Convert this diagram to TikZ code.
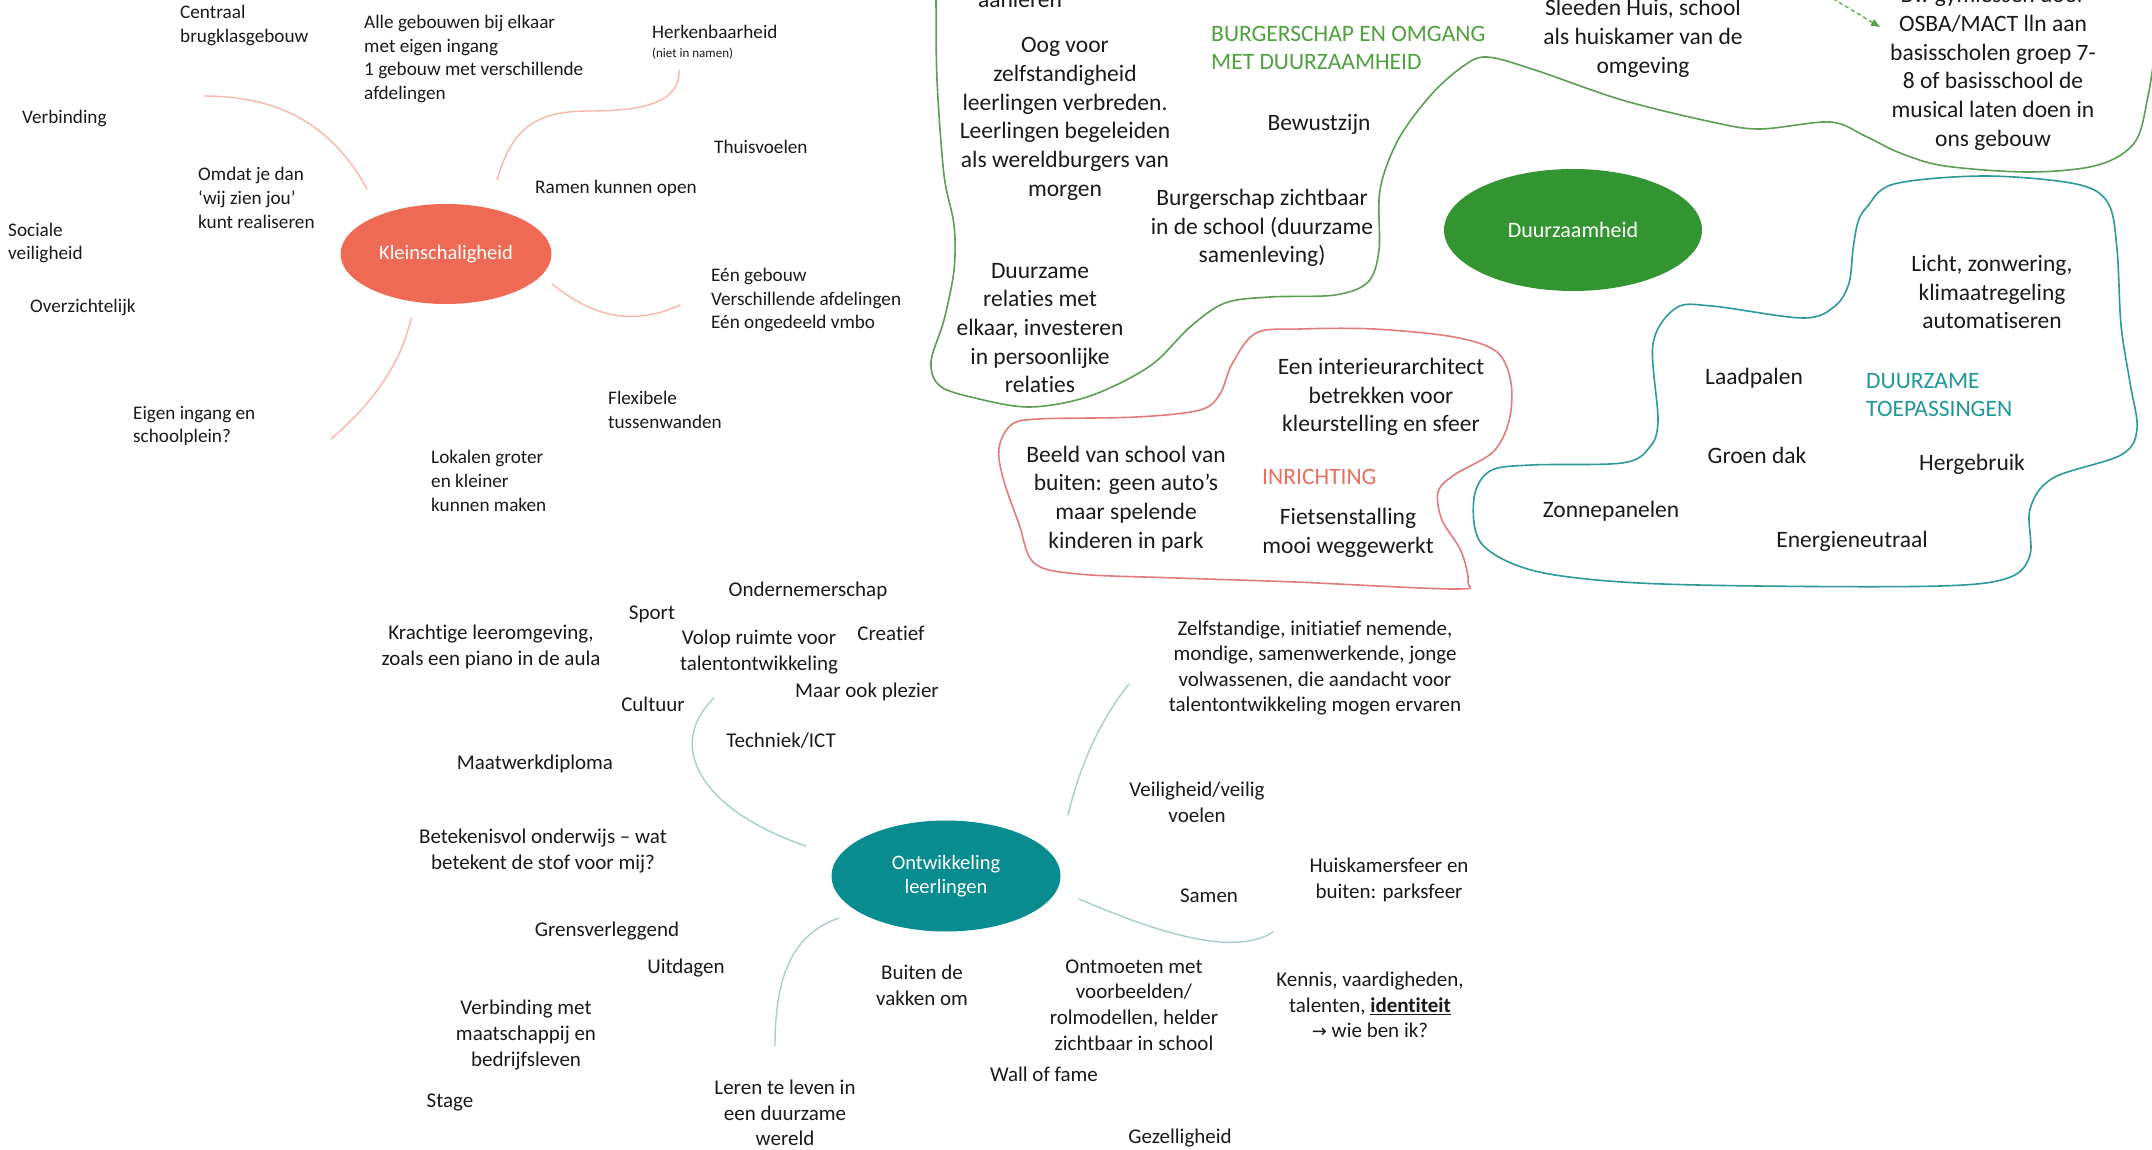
\documentclass[tikz,border=0pt]{standalone}
\usepackage{fontspec}
\setmainfont{Carlito}[Ligatures={TeX,NoCommon}]
\newfontfamily\symfont{DejaVu Sans}
\usepackage{tikz}
\usetikzlibrary{arrows.meta,shapes.geometric}
\definecolor{ink}{HTML}{1A1A1A}
\definecolor{coral}{HTML}{EE6A55}
\definecolor{coralpale}{HTML}{F5B8AD}
\definecolor{teal}{HTML}{088C8F}
\definecolor{tealpale}{HTML}{A9CDCD}
\definecolor{leaf}{HTML}{339432}
\definecolor{leafline}{HTML}{5E9C57}
\definecolor{leaftext}{HTML}{50A040}
\definecolor{redline}{HTML}{E07C7A}
\definecolor{redtext}{HTML}{E8705F}
\definecolor{seaLine}{HTML}{2F9898}
\definecolor{seatext}{HTML}{1F9898}
\tikzset{
  kl/.style={text=ink, inner sep=0pt, font=\fontsize{19.2}{23.7}\selectfont, align=left, anchor=west},
  ol/.style={text=ink, inner sep=0pt, font=\fontsize{21}{25.6}\selectfont, align=center},
  bl/.style={text=ink, inner sep=0pt, font=\fontsize{23.5}{28.7}\selectfont, align=center},
  ttl/.style={bl, align=left, anchor=west},
  hub/.style={ellipse, inner sep=0pt, text=white, font=\fontsize{20.5}{24}\selectfont, align=center},
  klink/.style={draw=coralpale, line width=1.4pt, line cap=round},
  olink/.style={draw=tealpale, line width=1.4pt, line cap=round},
  blob/.style={line width=1.6pt, line join=round},
  dasharrow/.style={draw=leaftext, line width=1.2pt, dash pattern=on 4pt off 3pt, -{Triangle[length=9pt,width=7pt]}},
}
\begin{document}
\begin{tikzpicture}[x=1pt,y=-1pt]
  \useasboundingbox (0,0) rectangle (2152,1150);
  \clip (0,0) rectangle (2152,1150);
  \fill[white] (0,0) rectangle (2152,1150);

  % Kleinschaligheid
  \node[hub, fill=coral, minimum width=211pt, minimum height=100pt] (klein) at (446,254) {Kleinschaligheid};
  \node[kl] (centraal) at (180,25.5) {Centraal\\brugklasgebouw};
  \node[kl] (allegeb) at (364,59) {Alle gebouwen bij elkaar\\met eigen ingang\\1 gebouw met verschillende\\afdelingen};
  \node[kl] (herk) at (652,32) {Herkenbaarheid};
  \node[kl, font=\fontsize{13}{15}\selectfont] (herknote) at (652,54) {(niet in namen)};
  \node[kl] (verb) at (22,118) {Verbinding};
  \node[kl] (thuis) at (714,147) {Thuisvoelen};
  \node[kl] (omdat) at (198,198) {Omdat je dan\\‘wij zien jou’\\kunt realiseren};
  \node[kl] (ramen) at (535,188) {Ramen kunnen open};
  \node[kl] (sociaal) at (8,243) {Sociale\\veiligheid};
  \node[kl] (eengeb) at (711,300) {Eén gebouw\\Verschillende afdelingen\\Eén ongedeeld vmbo};
  \node[kl] (overz) at (30,307) {Overzichtelijk};
  \node[kl] (flex) at (608,410) {Flexibele\\tussenwanden};
  \node[kl] (eigen) at (133,426) {Eigen ingang en\\schoolplein?};
  \node[kl] (lokalen) at (431,481) {Lokalen groter\\en kleiner\\kunnen maken};

  \coordinate (kA1) at (367,189); \coordinate (kA2) at (204,96);
  \coordinate (kB1) at (497,180); \coordinate (kB2) at (590,111); \coordinate (kB3) at (679,70);
  \coordinate (kC1) at (552,284); \coordinate (kC2) at (680,305);
  \coordinate (kD1) at (411,318); \coordinate (kD2) at (331,439);
  \draw[klink] (kA1) .. controls (335,130) and (285,96) .. (kA2);
  \draw[klink] (kB1) .. controls (512,128) and (535,111) .. (kB2) .. controls (650,111) and (680,100) .. (kB3);
  \draw[klink] (kC1) .. controls (585,310) and (625,330) .. (kC2);
  \draw[klink] (kD1) .. controls (400,370) and (365,410) .. (kD2);

  % Ontwikkeling leerlingen
  \node[hub, fill=teal, minimum width=229pt, minimum height=111pt] (ontw) at (946,876) {Ontwikkeling\\leerlingen};
  \node[ol] (ond) at (808,591) {Ondernemerschap};
  \node[ol] (sport) at (652,614) {Sport};
  \node[ol] (kracht) at (491,647) {Krachtige leeromgeving,\\zoals een piano in de aula};
  \node[ol] (volop) at (759,652) {Volop ruimte voor\\talentontwikkeling};
  \node[ol] (creatief) at (891,633) {Creatief};
  \node[ol] (plezier) at (867,692) {Maar ook plezier};
  \node[ol] (cultuur) at (653,704) {Cultuur};
  \node[ol] (techniek) at (781,741) {Techniek/ICT};
  \node[ol] (maatwerk) at (535,764) {Maatwerkdiploma};
  \node[ol] (betek) at (543,851) {Betekenisvol onderwijs – wat\\betekent de stof voor mij?};
  \node[ol] (grens) at (607,931) {Grensverleggend};
  \node[ol] (uitdagen) at (686,968) {Uitdagen};
  \node[ol] (buiten) at (922,985) {Buiten de\\vakken om};
  \node[ol] (verbmaat) at (526,1035) {Verbinding met\\maatschappij en\\bedrijfsleven};
  \node[ol] (stage) at (450,1102) {Stage};
  \node[ol] (leren) at (785,1113) {Leren te leven in\\een duurzame\\wereld};
  \node[ol] (zelfst) at (1315,668) {Zelfstandige, initiatief nemende,\\mondige, samenwerkende, jonge\\volwassenen, die aandacht voor\\talentontwikkeling mogen ervaren};
  \node[ol] (veilig) at (1197,802) {Veiligheid/veilig\\voelen};
  \node[ol] (huisk) at (1389,880) {Huiskamersfeer en\\buiten: parksfeer};
  \node[ol] (samen) at (1209,896) {Samen};
  \node[ol] (ontmoet) at (1134,1005) {Ontmoeten met\\voorbeelden/\\rolmodellen, helder\\zichtbaar in school};
  \node[ol] (kennis) at (1370,1005) {Kennis, vaardigheden,\\talenten, \underline{\textbf{identiteit}}\\{\symfont\fontsize{18}{20}\selectfont →} wie ben ik?};
  \node[ol] (wall) at (1044,1074) {Wall of fame};
  \node[ol] (gezel) at (1180,1138) {Gezelligheid};

  \coordinate (oA1) at (806,846); \coordinate (oA2) at (714,698);
  \coordinate (oB1) at (839,918); \coordinate (oB2) at (775,1046);
  \coordinate (oC1) at (1068,815); \coordinate (oC2) at (1129,684);
  \coordinate (oD1) at (1079,899); \coordinate (oD2) at (1273,932);
  \draw[olink] (oA1) .. controls (700,810) and (665,745) .. (oA2);
  \draw[olink] (oB1) .. controls (790,935) and (775,980) .. (oB2);
  \draw[olink] (oC1) .. controls (1080,765) and (1100,720) .. (oC2);
  \draw[olink] (oD1) .. controls (1140,925) and (1230,960) .. (oD2);

  % Duurzaamheid
  \node[hub, fill=leaf, minimum width=258pt, minimum height=122pt, font=\fontsize{22}{26}\selectfont] (duurz) at (1573,230) {Duurzaamheid};

  % burgerschap
  \draw[blob, draw=leafline] plot[smooth, tension=0.55] coordinates {
    (936,-25) (936,0) (937,80) (944,175) (954,225) (954,270) (944,320) (931,362) (940,386) (975,398)
    (1030,407) (1090,396) (1150,366) (1190,327) (1225,303) (1270,297) (1335,295) (1368,282) (1379,250)
    (1380,190) (1398,140) (1430,96) (1462,67) (1487,57) (1535,70) (1622,100) (1712,122) (1760,129)
    (1830,122) (1865,136) (1900,153) (1945,166) (2030,172) (2098,165) (2135,142) (2148,96) (2155,50)
    (2160,0) (2162,-25)};
  \node[bl] (aanleren) at (1020,-1) {aanleren};
  \node[ttl, text=leaftext] (burgtitle) at (1211,48) {BURGERSCHAP EN OMGANG\\MET DUURZAAMHEID};
  \node[bl] (oog) at (1065,119) {Oog voor\\zelfstandigheid\\leerlingen verbreden.\\Leerlingen begeleiden\\als wereldburgers van\\morgen};
  \node[bl] (bewust) at (1319,124) {Bewustzijn};
  \node[bl] (burgzicht) at (1262,228) {Burgerschap zichtbaar\\in de school (duurzame\\samenleving)};
  \node[bl] (relaties) at (1040,328) {Duurzame\\relaties met\\elkaar, investeren\\in persoonlijke\\relaties};
  \node[bl] (sleeden) at (1643,38.5) {Sleeden Huis, school\\als huiskamer van de\\omgeving};
  \node[bl] (gym) at (1993,68.5) {Bv. gymlessen door\\OSBA/MACT lln aan\\basisscholen groep 7-\\8 of basisschool de\\musical laten doen in\\ons gebouw};
  \coordinate (gymS) at (1815,-12);
  \coordinate (gymE) at (1880,27);
  \draw[dasharrow] (gymS) -- (gymE);

  % inrichting
  \draw[blob, draw=redline] plot[smooth cycle, tension=0.55] coordinates {
    (1256,333) (1300,329) (1374,329) (1454,337) (1497,352) (1511,383) (1509,421) (1493,452) (1454,475)
    (1438,492) (1442,520) (1461,551) (1468,582) (1454,589) (1295,582) (1177,578) (1078,574) (1034,563)
    (1019,524) (1003,478) (999,448) (1011,425) (1038,419) (1137,417) (1200,410) (1220,394) (1232,364)};
  \node[bl] (interieur) at (1381,397) {Een interieurarchitect\\betrekken voor\\kleurstelling en sfeer};
  \node[bl] (beeld) at (1126,499) {Beeld van school van\\buiten: geen auto’s\\maar spelende\\kinderen in park};
  \node[ttl, text=redtext] (inrtitle) at (1262,477) {INRICHTING};
  \node[bl] (fiets) at (1348,533) {Fietsenstalling\\mooi weggewerkt};

  % duurzame toepassingen
  \draw[blob, draw=seaLine] plot[smooth cycle, tension=0.55] coordinates {
    (1867,207) (1894,184) (1985,176) (2076,184) (2108,203) (2117,249) (2121,325) (2130,383) (2137,429)
    (2121,455) (2053,478) (2030,509) (2030,555) (2008,578) (1940,586) (1758,586) (1622,582) (1531,570)
    (1481,543) (1474,498) (1490,471) (1531,465) (1622,463) (1649,448) (1658,421) (1653,344) (1676,308)
    (1712,306) (1803,318) (1835,306) (1849,283) (1853,249) (1858,222)};
  \node[bl] (licht) at (1992,292) {Licht, zonwering,\\klimaatregeling\\automatiseren};
  \node[bl] (laad) at (1754,378) {Laadpalen};
  \node[ttl, text=seatext] (duurtitle) at (1866,395) {DUURZAME\\TOEPASSINGEN};
  \node[bl] (groen) at (1757,455) {Groen dak};
  \node[bl] (herge) at (1972,464) {Hergebruik};
  \node[bl] (zon) at (1611,511) {Zonnepanelen};
  \node[bl] (energie) at (1852,541) {Energieneutraal};
\end{tikzpicture}
\end{document}
